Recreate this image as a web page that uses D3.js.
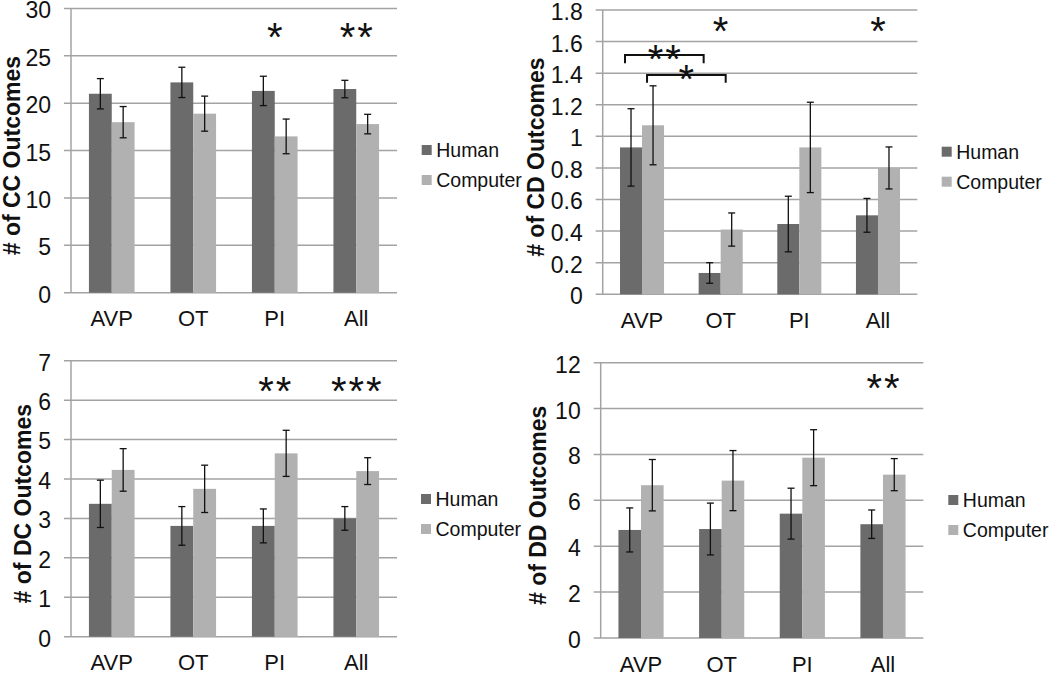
<!DOCTYPE html>
<html>
<head>
<meta charset="utf-8">
<script src="https://cdn.jsdelivr.net/npm/d3@7/dist/d3.min.js"></script>
<style>
  html, body { margin: 0; padding: 0; background: #fff; }
  svg { display: block; font-family: "Liberation Sans", Arial, sans-serif; }
</style>
</head>
<body>
<svg id="chart" width="1050" height="674"></svg>
<script>
// ---------------- DATA ----------------
const categories = ["AVP", "OT", "PI", "All"];
const seriesNames = ["Human", "Computer"];

const ccHuman = [21.0, 22.2, 21.3, 21.5];
const ccHumanErr = [1.6, 1.6, 1.55, 0.92];
const ccComputer = [18.0, 18.9, 16.5, 17.8];
const ccComputerErr = [1.65, 1.85, 1.83, 1.03];
const ccTicks = [0, 5, 10, 15, 20, 25, 30];
const ccStars = [{cat: "PI", text: "*", level: 27.5}, {cat: "All", text: "**", level: 27.5}];

const cdHuman = [0.93, 0.135, 0.445, 0.50];
const cdHumanErr = [0.245, 0.065, 0.176, 0.107];
const cdComputer = [1.07, 0.41, 0.93, 0.80];
const cdComputerErr = [0.25, 0.105, 0.286, 0.133];
const cdTicks = [0, 0.2, 0.4, 0.6, 0.8, 1, 1.2, 1.4, 1.6, 1.8];
const cdStars = [{cat: "OT", text: "*", level: 1.695}, {cat: "All", text: "*", level: 1.695}];
const cdBrackets = [
  {from: ["AVP", "Human"], to: ["OT", "Human"], level: 1.515, drop: 1.463, text: "**"},
  {from: ["AVP", "Computer"], to: ["OT", "Computer"], level: 1.389, drop: 1.34, text: "*"}
];

const dcHuman = [3.37, 2.81, 2.81, 3.0];
const dcHumanErr = [0.6, 0.49, 0.43, 0.3];
const dcComputer = [4.23, 3.75, 4.65, 4.2];
const dcComputerErr = [0.54, 0.6, 0.585, 0.34];
const dcTicks = [0, 1, 2, 3, 4, 5, 6, 7];
const dcStars = [{cat: "PI", text: "**", level: 6.34}, {cat: "All", text: "***", level: 6.34}];

const ddHuman = [4.71, 4.75, 5.42, 4.96];
const ddHumanErr = [0.96, 1.13, 1.11, 0.62];
const ddComputer = [6.66, 6.86, 7.86, 7.12];
const ddComputerErr = [1.12, 1.31, 1.22, 0.7];
const ddTicks = [0, 2, 4, 6, 8, 10, 12];
const ddStars = [{cat: "All", text: "**", level: 11.07}];

// ---------------- STYLE ----------------
const colors = {Human: "#6b6b6b", Computer: "#b1b1b1"};
const gridColor = "#a3a3a3";
const FONT = '"Liberation Sans", Arial, sans-serif';
const tickFs = 23, catFs = 22, titleFs = 23, legendFs = 19.5;
const starFs = 40, starLs = 2;

const panels = [
  {title: "# of CC Outcomes", human: ccHuman, humanErr: ccHumanErr, comp: ccComputer, compErr: ccComputerErr,
   ticks: ccTicks, stars: ccStars, brackets: [],
   box: {l: 71, r: 397, t: 8.5, b: 292.7}, titleX: 11.5, legend: {x: 421.7, y: 150}},
  {title: "# of CD Outcomes", human: cdHuman, humanErr: cdHumanErr, comp: cdComputer, compErr: cdComputerErr,
   ticks: cdTicks, stars: cdStars, brackets: cdBrackets,
   box: {l: 602.7, r: 917.3, t: 10, b: 294.3}, titleX: 536, legend: {x: 941.7, y: 151.7}},
  {title: "# of DC Outcomes", human: dcHuman, humanErr: dcHumanErr, comp: dcComputer, compErr: dcComputerErr,
   ticks: dcTicks, stars: dcStars, brackets: [],
   box: {l: 71, r: 397, t: 360.7, b: 636.7}, titleX: 22.5, legend: {x: 421, y: 499}},
  {title: "# of DD Outcomes", human: ddHuman, humanErr: ddHumanErr, comp: ddComputer, compErr: ddComputerErr,
   ticks: ddTicks, stars: ddStars, brackets: [],
   box: {l: 600.7, r: 923.3, t: 362.7, b: 638}, titleX: 538, legend: {x: 948.3, y: 500}}
];

const svg = d3.select("#chart");

panels.forEach(p => {
  const W = p.box.r - p.box.l, H = p.box.b - p.box.t;
  const g = svg.append("g").attr("transform", `translate(${p.box.l},${p.box.t})`);
  const y = d3.scaleLinear().domain([0, d3.max(p.ticks)]).range([H, 0]);
  const x0 = d3.scaleBand().domain(categories).range([0, W]).padding(0);
  const barW = x0.step() * 0.28;
  const x1 = d3.scaleBand().domain(seriesNames).range([0, 2 * barW]).padding(0);
  const barX = (cat, s) => x0(cat) + x0.bandwidth() / 2 - barW + x1(s);
  const barC = (cat, s) => barX(cat, s) + x1.bandwidth() / 2;

  // gridlines
  g.append("g").selectAll("line").data(p.ticks).join("line")
    .attr("x1", -7).attr("x2", W)
    .attr("y1", d => y(d)).attr("y2", d => y(d))
    .attr("stroke", gridColor).attr("stroke-width", 1.5);
  // left axis line
  g.append("line").attr("x1", 0).attr("x2", 0).attr("y1", 0).attr("y2", H)
    .attr("stroke", gridColor).attr("stroke-width", 1.5);

  // y axis labels
  const ya = d3.axisLeft(y).tickValues(p.ticks).tickSize(0).tickPadding(20)
    .tickFormat(d => d3.format("")(+d.toFixed(1)));
  const yg = g.append("g").call(ya);
  yg.select(".domain").remove();
  yg.selectAll("text").attr("font-family", FONT).attr("font-size", tickFs).attr("fill", "#111")
    .attr("dy", "0.41em");

  // x axis labels
  const xa = d3.axisBottom(x0).tickSize(0).tickPadding(18);
  const xg = g.append("g").attr("transform", `translate(0,${H})`).call(xa);
  xg.select(".domain").remove();
  xg.selectAll("text").attr("font-family", FONT).attr("font-size", catFs).attr("fill", "#111");

  // bars data
  const rows = [];
  categories.forEach((c, i) => {
    rows.push({cat: c, s: "Human", v: p.human[i], e: p.humanErr[i]});
    rows.push({cat: c, s: "Computer", v: p.comp[i], e: p.compErr[i]});
  });
  g.append("g").selectAll("rect").data(rows).join("rect")
    .attr("x", d => barX(d.cat, d.s)).attr("width", x1.bandwidth())
    .attr("y", d => y(d.v)).attr("height", d => H - y(d.v))
    .attr("fill", d => colors[d.s]);

  // error bars
  const eg = g.append("g").attr("stroke", "#111").attr("stroke-width", 1.3);
  rows.forEach(d => {
    const cx = barC(d.cat, d.s);
    eg.append("line").attr("x1", cx).attr("x2", cx).attr("y1", y(d.v + d.e)).attr("y2", y(d.v - d.e));
    eg.append("line").attr("x1", cx - 3.5).attr("x2", cx + 3.5).attr("y1", y(d.v + d.e)).attr("y2", y(d.v + d.e));
    eg.append("line").attr("x1", cx - 3.5).attr("x2", cx + 3.5).attr("y1", y(d.v - d.e)).attr("y2", y(d.v - d.e));
  });

  // stars
  g.append("g").selectAll("text").data(p.stars).join("text")
    .attr("x", d => x0(d.cat) + x0.bandwidth() / 2 + starLs / 2)
    .attr("y", d => y(d.level) + starFs * 0.46)
    .attr("text-anchor", "middle").attr("font-family", FONT).attr("font-size", starFs)
    .attr("letter-spacing", starLs).attr("fill", "#111").text(d => d.text);

  // brackets
  p.brackets.forEach(b => {
    const xa0 = barC(b.from[0], b.from[1]) - 6, xb0 = barC(b.to[0], b.to[1]) - 6;
    g.append("path")
      .attr("d", `M${xa0},${y(b.drop)}V${y(b.level)}H${xb0}V${y(b.drop)}`)
      .attr("fill", "none").attr("stroke", "#111").attr("stroke-width", 2);
    const tx = (xa0 + xb0) / 2;
    g.append("text").attr("x", tx + starLs / 2).attr("y", y(b.level) + starFs * 0.46)
      .attr("text-anchor", "middle").attr("font-family", FONT).attr("font-size", starFs)
      .attr("letter-spacing", starLs).attr("fill", "#111").text(b.text);
  });

  // y title
  svg.append("text")
    .attr("transform", `translate(${p.titleX},${p.box.t + H / 2 + 5}) rotate(-90)`)
    .attr("text-anchor", "middle").attr("dominant-baseline", "central")
    .attr("font-family", FONT).attr("font-size", titleFs).attr("font-weight", "bold").attr("fill", "#111")
    .text(p.title);

  // legend
  const lg = svg.append("g").attr("transform", `translate(${p.legend.x},${p.legend.y})`);
  seriesNames.forEach((s, i) => {
    lg.append("rect").attr("x", 0).attr("y", i * 30 - 5).attr("width", 10).attr("height", 10).attr("fill", colors[s]);
    lg.append("text").attr("x", 14.5).attr("y", i * 30).attr("dominant-baseline", "central")
      .attr("font-family", FONT).attr("font-size", legendFs).attr("fill", "#111").text(s);
  });
});
</script>
</body>
</html>
